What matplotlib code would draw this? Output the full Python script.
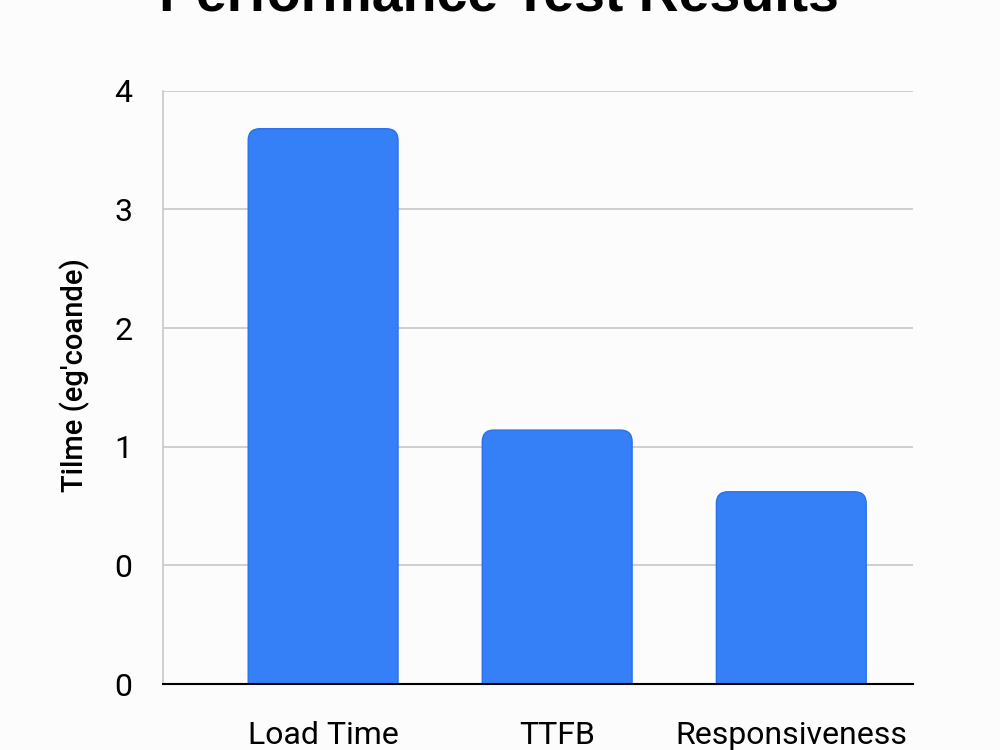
import matplotlib.pyplot as plt
from matplotlib.patches import FancyBboxPatch

categories = ['Load Time', 'TTFB', 'Responsiveness']
values = [4.68, 2.14, 1.62]
ytick_pos = [0, 1, 2, 3, 4, 5]
ytick_labels = ['0', '0', '1', '2', '3', '4']

plt.rcParams['font.family'] = ['Roboto', 'DejaVu Sans']

fig = plt.figure(figsize=(10, 7.5), dpi=100, facecolor='#fcfcfc')
ax = fig.add_axes([0.163, 0.088, 0.75, 0.791])
ax.set_facecolor('#fcfcfc')

ax.set_xlim(-0.684, 2.52)
ax.set_ylim(0, 5)

# rounded top bars
w = 0.64
for i, v in enumerate(values):
    p = FancyBboxPatch((i - w / 2, -0.3), w, v + 0.3,
                       boxstyle='round,pad=0,rounding_size=0.05',
                       mutation_aspect=1.97,
                       fc='#3580f6', ec='#2a70ea', lw=1, zorder=3, clip_on=True)
    ax.add_patch(p)

ax.set_yticks(ytick_pos)
ax.set_yticklabels(ytick_labels)
ax.set_xticks(range(len(categories)))
ax.set_xticklabels(categories)
ax.tick_params(axis='both', length=0, labelsize=23)
ax.tick_params(axis='y', pad=22)
ax.tick_params(axis='x', pad=27)
ax.grid(axis='y', color='#c8c8c8', lw=1.2, zorder=0)

for s in ['top', 'right']:
    ax.spines[s].set_visible(False)
ax.spines['left'].set_color('#c8c8c8')
ax.spines['left'].set_linewidth(1.2)
ax.spines['bottom'].set_color('black')
ax.spines['bottom'].set_linewidth(1.5)
ax.spines['bottom'].set_zorder(4)

ax.set_ylabel("Tilme (eg'coande)", fontsize=21, fontweight='medium')
ax.yaxis.set_label_coords(-0.098, 0.52)

fig.text(0.499, 0.986, 'Performance Test Results', ha='center', va='baseline',
         fontsize=40, fontweight='bold', family=['Liberation Sans', 'DejaVu Sans'])

plt.savefig('out.png', dpi=100, facecolor=fig.get_facecolor())
